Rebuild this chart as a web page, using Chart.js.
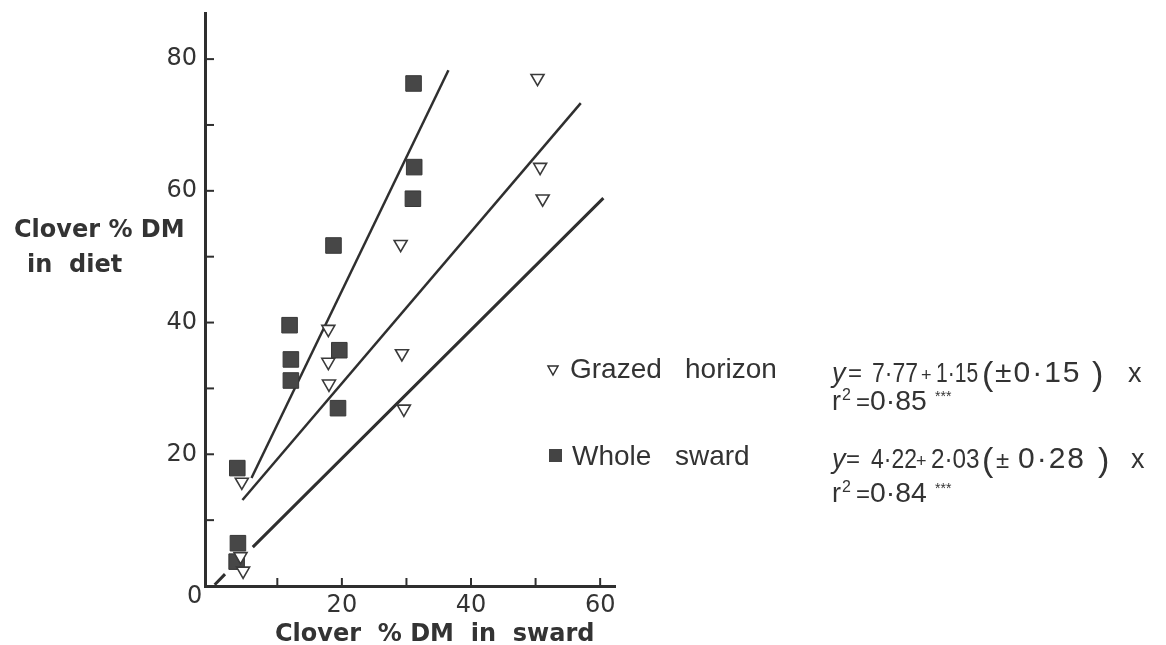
<!DOCTYPE html>
<html>
<head>
<meta charset="utf-8">
<script src="https://cdn.jsdelivr.net/npm/chart.js@4/dist/chart.umd.min.js"></script>
<style>
  html, body { margin: 0; padding: 0; background: #fff; }
</style>
</head>
<body>
<canvas id="clover-chart" width="1166" height="645"></canvas>
<script>
// whole sward (squares)
const swardX = [3.8, 3.9, 3.7, 11.9, 12.1, 12.1, 18.7, 19.6, 19.4, 31.1, 31.2, 31.0];
const swardY = [17.9, 6.5, 3.7, 39.6, 34.4, 31.2, 51.7, 35.8, 27.0, 76.3, 63.6, 58.8];

// grazed horizon (triangles)
const horizonX = [4.5, 4.3, 4.7, 17.9, 17.9, 18.0, 29.1, 29.3, 29.6, 50.3, 50.7, 51.1];
const horizonY = [15.8, 4.5, 2.3, 39.0, 34.0, 30.7, 51.9, 35.3, 26.9, 77.1, 63.6, 58.8];

// regression lines: [intercept, slope] and the x range they are drawn over
const wholeFit = [4.22, 2.03];
const wholeRange = [6.0, 36.5];
const horizonFit = [7.77, 1.15];
const horizonRange = [4.6, 57.0];

// third line (no equation printed), broken near the origin
const lowerX = [0.3, 1.9, 4.0, 6.2, 60.5];
const lowerY = [0.2, 1.8, null, 5.9, 58.9];

const yTickLabels = [20, 40, 60, 80];
const xTickLabels = [20, 40, 60];

const ink = '#2f2f2f';
const textInk = '#333';

function fitLine(fit, range) {
  return range.map(x => ({ x: x, y: fit[0] + fit[1] * x }));
}

const innerTicks = {
  id: 'innerTicks',
  afterDraw(chart) {
    const { ctx, chartArea, scales: { x, y } } = chart;
    ctx.save();
    ctx.strokeStyle = ink;
    ctx.lineWidth = 2;
    x.ticks.forEach(t => {
      if (t.value <= 0) return;
      const px = x.getPixelForValue(t.value);
      ctx.beginPath();
      ctx.moveTo(px, chartArea.bottom);
      ctx.lineTo(px, chartArea.bottom - 8);
      ctx.stroke();
    });
    y.ticks.forEach(t => {
      if (t.value <= 0) return;
      const py = y.getPixelForValue(t.value);
      ctx.beginPath();
      ctx.moveTo(chartArea.left, py);
      ctx.lineTo(chartArea.left + 9, py);
      ctx.stroke();
    });
    ctx.restore();
  }
};

// text with optional horizontal squeeze and letter spacing
function put(ctx, str, x, y, font, sx, spacing) {
  ctx.save();
  ctx.font = font;
  ctx.letterSpacing = (spacing || 0) + 'px';
  ctx.translate(x, y);
  ctx.scale(sx || 1, 1);
  ctx.fillText(str, 0, 0);
  ctx.restore();
}

const LS = "'Liberation Sans'";
const DV = "'DejaVu Sans'";
const EQ = '27px ' + LS;
const EQ_BIG = '30px ' + LS;
const PAREN = '34px ' + LS;

// equation rows: [text, x, baseline offset, font, squeeze, spacing]
const eqRows = [
  { y: 382, parts: [
    ['y', 832, 0, 'italic 27px ' + LS],
    ['=', 848, -1, '24px ' + LS],
    ['7·77', 872, 0, EQ, 0.85],
    ['+', 921, -1, '18px ' + LS],
    ['1·15', 936, 0, EQ, 0.78],
    ['(', 982, 3, PAREN],
    ['±0·15', 995, 0, EQ_BIG, 1, 2],
    [')', 1092, 3, PAREN],
    ['x', 1128, 0, EQ]
  ]},
  { y: 410, parts: [
    ['r', 832, 0, EQ],
    ['2', 842, -10, '16px ' + LS],
    ['=', 856, 0, '24px ' + LS],
    ['0·85', 870, 0, EQ, 1.05],
    ['***', 935, -9, '14px ' + LS]
  ]},
  { y: 468, parts: [
    ['y', 832, 0, 'italic 27px ' + LS],
    ['=', 846, -1, '24px ' + LS],
    ['4·22', 871, 0, EQ, 0.85],
    ['+', 916, -1, '18px ' + LS],
    ['2·03', 931, 0, EQ, 0.9],
    ['(', 982, 3, PAREN],
    ['±', 996, 0, '24px ' + LS],
    ['0·28', 1018, 0, EQ_BIG, 1, 2],
    [')', 1098, 3, PAREN],
    ['x', 1131, 0, EQ]
  ]},
  { y: 502, parts: [
    ['r', 832, 0, EQ],
    ['2', 842, -10, '16px ' + LS],
    ['=', 856, 0, '24px ' + LS],
    ['0·84', 870, 0, EQ, 1.05],
    ['***', 935, -9, '14px ' + LS]
  ]}
];

const labels = {
  id: 'labels',
  afterDraw(chart) {
    const ctx = chart.ctx;
    const bold = 'bold 24px ' + DV;
    const reg = '28px ' + LS;
    ctx.save();
    ctx.fillStyle = textInk;
    ctx.textAlign = 'left';
    ctx.textBaseline = 'alphabetic';

    // axis titles
    put(ctx, 'Clover % DM', 14, 237, bold);
    put(ctx, 'in  diet', 27, 272, bold);
    put(ctx, 'Clover  % DM  in  sward', 275, 641, bold);

    // shared origin label
    put(ctx, '0', 187, 603, '24px ' + DV);

    // key
    ctx.fillStyle = '#fff';
    ctx.strokeStyle = ink;
    ctx.lineWidth = 1.5;
    ctx.beginPath();
    ctx.moveTo(548, 366); ctx.lineTo(558, 366); ctx.lineTo(553, 375); ctx.closePath();
    ctx.fill(); ctx.stroke();
    ctx.fillStyle = '#444';
    ctx.fillRect(549, 449, 13, 13);
    ctx.fillStyle = textInk;
    put(ctx, 'Grazed', 570, 378, reg);
    put(ctx, 'horizon', 685, 378, reg);
    put(ctx, 'Whole', 572, 465, reg);
    put(ctx, 'sward', 675, 465, reg);

    // regression equations
    eqRows.forEach(row => {
      row.parts.forEach(p => put(ctx, p[0], p[1], row.y + p[2], p[3], p[4], p[5]));
    });

    ctx.restore();
  }
};

// drop the label overflow padding so the plot box sits where the layout says
function noOverflow(s) {
  s.paddingTop = 0;
  s.paddingBottom = 0;
  s.paddingLeft = 0;
  s.paddingRight = 0;
}

const ctx = document.getElementById('clover-chart').getContext('2d');
const cloverChart = new Chart(ctx, {
  type: 'scatter',
  data: {
    datasets: [{
      label: 'Grazed horizon',
      data: horizonX.map((x, i) => ({ x: x, y: horizonY[i] })),
      pointStyle: 'triangle',
      rotation: 180,
      radius: 7.5,
      backgroundColor: '#fff',
      borderColor: '#3a3a3a',
      borderWidth: 1.6,
      order: 0
    }, {
      label: 'Whole sward',
      data: swardX.map((x, i) => ({ x: x, y: swardY[i] })),
      pointStyle: 'rect',
      radius: 11,
      backgroundColor: '#474747',
      borderColor: '#383838',
      borderWidth: 1,
      order: 0
    }, {
      label: 'Whole sward fit',
      data: fitLine(wholeFit, wholeRange),
      showLine: true,
      pointRadius: 0,
      borderColor: ink,
      borderWidth: 2.5,
      order: 1
    }, {
      label: 'Grazed horizon fit',
      data: fitLine(horizonFit, horizonRange),
      showLine: true,
      pointRadius: 0,
      borderColor: ink,
      borderWidth: 2.5,
      order: 1
    }, {
      label: 'lower line',
      data: lowerX.map((x, i) => ({ x: x, y: lowerY[i] })),
      showLine: true,
      spanGaps: false,
      pointRadius: 0,
      borderColor: ink,
      borderWidth: 3,
      order: 1
    }]
  },
  options: {
    responsive: false,
    animation: false,
    layout: { padding: { left: 0, top: 13, right: 551, bottom: 0 } },
    plugins: {
      legend: { display: false },
      tooltip: { enabled: false }
    },
    scales: {
      x: {
        type: 'linear',
        min: -1.2,
        max: 62.3,
        border: { color: ink, width: 3 },
        grid: { drawOnChartArea: false, drawTicks: false },
        ticks: {
          stepSize: 10,
          includeBounds: false,
          autoSkip: false,
          maxRotation: 0,
          padding: 5,
          color: textInk,
          font: { family: 'DejaVu Sans', size: 24 },
          callback: v => xTickLabels.includes(v) ? String(v) : ''
        },
        afterFit: s => { s.height = 59; noOverflow(s); }
      },
      y: {
        type: 'linear',
        min: 0,
        max: 87,
        border: { color: ink, width: 3 },
        grid: { drawOnChartArea: false, drawTicks: false },
        ticks: {
          stepSize: 10,
          includeBounds: false,
          autoSkip: false,
          padding: 8,
          color: textInk,
          font: { family: 'DejaVu Sans', size: 24 },
          callback: v => yTickLabels.includes(v) ? String(v) : ''
        },
        afterFit: s => { s.width = 205; noOverflow(s); }
      }
    }
  },
  plugins: [innerTicks, labels]
});
</script>
</body>
</html>
